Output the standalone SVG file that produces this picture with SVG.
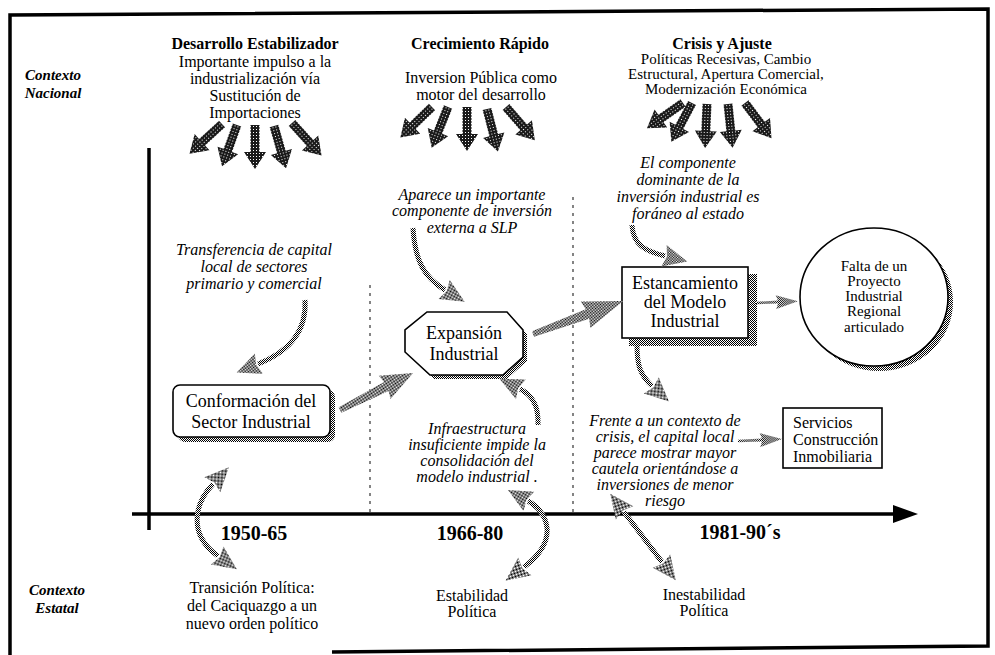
<svg xmlns="http://www.w3.org/2000/svg" xmlns:xlink="http://www.w3.org/1999/xlink" width="995" height="655" viewBox="0 0 995 655">
  <style>
    .t { font-family: "Liberation Serif", "Times New Roman", serif; font-size: 16px; fill: #000; text-anchor: middle; }
    .i { font-style: italic; }
    .b { font-weight: bold; }
    .n { font-size: 18px; }
    .s { font-size: 15px; }
    .yr { font-size: 20px; font-weight: bold; }
    .ctx { font-size: 15px; font-weight: bold; font-style: italic; }
    .box { fill: #fff; stroke: #000; stroke-width: 1.6; }
    .shadow { fill: url(#stip); }
    .curve { fill: none; stroke: url(#stip); stroke-width: 5; marker-end: url(#head); }
    .both { marker-start: url(#head); }
    .axis { stroke: #000; stroke-width: 3.5; fill: none; }
    .sep { stroke: #333; stroke-width: 1.2; stroke-dasharray: 3 5; fill: none; }
  </style>
  <defs>
    <!-- grainy halftone fills -->
    <pattern id="stip" width="2" height="2" patternUnits="userSpaceOnUse">
      <rect width="2" height="2" fill="#fff"/>
      <rect width="1" height="1" fill="#000"/>
      <rect x="1" y="1" width="1" height="1" fill="#000"/>
    </pattern>
    <pattern id="stipDark" width="3" height="3" patternUnits="userSpaceOnUse">
      <rect width="3" height="3" fill="#1a1a1a"/>
      <rect x="1" y="1" width="1" height="1" fill="#fff"/>
    </pattern>
    <marker id="head" markerUnits="userSpaceOnUse" markerWidth="30" markerHeight="26" viewBox="0 -13 28 26" refX="1" refY="0" orient="auto-start-reverse">
      <path d="M0,-11 L24,0 L0,11 L3,0 Z" fill="url(#stip)"/>
    </marker>
    <!-- short dark arrow of the national-context bundles, pointing down -->
    <path id="narr" d="M-4.5,0 L4.5,0 L4.5,27 L11,27 L0,44 L-11,27 L-4.5,27 Z" fill="url(#stipDark)"/>
  </defs>

  <rect width="995" height="655" fill="#fff"/>

  <!-- outer frame -->
  <path d="M10,655 L10,15 L988,9 L988,646 L332,652" fill="none" stroke="#000" stroke-width="3.5"/>

  <!-- time axes and period separators -->
  <g id="axes">
    <line class="axis" x1="149" y1="148" x2="149" y2="530"/>
    <line class="axis" x1="132" y1="514" x2="896" y2="514"/>
    <polygon points="893,505 918,514 893,523" fill="#000"/>
    <line class="sep" x1="370" y1="285" x2="370" y2="512"/>
    <line class="sep" x1="573" y1="197" x2="573" y2="512"/>
  </g>

  <!-- side headings -->
  <g id="contexto-nacional">
    <text class="t ctx" x="53" y="80">Contexto</text>
    <text class="t ctx" x="53" y="98">Nacional</text>
  </g>
  <g id="contexto-estatal">
    <text class="t ctx" x="57" y="595">Contexto</text>
    <text class="t ctx" x="57" y="613">Estatal</text>
  </g>

  <!-- national periods -->
  <g id="periodo-1">
    <text class="t b" x="255" y="49">Desarrollo Estabilizador</text>
    <text class="t" x="255" y="67">Importante impulso a la</text>
    <text class="t" x="255" y="84">industrialización vía</text>
    <text class="t" x="255" y="101">Sustitución de</text>
    <text class="t" x="255" y="118">Importaciones</text>
  </g>
  <g id="periodo-2">
    <text class="t b" x="480" y="49">Crecimiento Rápido</text>
    <text class="t" x="481" y="83">Inversion Pública como</text>
    <text class="t" x="481" y="100">motor del desarrollo</text>
  </g>
  <g id="periodo-3">
    <text class="t b" x="722" y="49">Crisis y Ajuste</text>
    <text class="t s" x="726" y="64">Políticas Recesivas, Cambio</text>
    <text class="t s" x="726" y="79">Estructural, Apertura Comercial,</text>
    <text class="t s" x="726" y="94">Modernización Económica</text>
  </g>

  <!-- years -->
  <g id="anios">
    <text class="t yr" x="254" y="540">1950-65</text>
    <text class="t yr" x="470" y="540">1966-80</text>
    <text class="t yr" x="740" y="539">1981-90´s</text>
  </g>

  <!-- nodes -->
  <g id="conformacion">
    <rect class="shadow" x="178" y="390" width="157" height="52" rx="7"/>
    <rect class="box" x="173" y="385" width="157" height="52" rx="7"/>
    <text class="t n" x="251" y="407">Conformación del</text>
    <text class="t n" x="251" y="428">Sector Industrial</text>
  </g>
  <g id="expansion">
    <polygon class="shadow" points="431,316 511,316 527,334 527,361 507,379 434,379 409,356 409,334"/>
    <polygon class="box" points="427,312 507,312 523,330 523,357 503,375 430,375 405,352 405,330" stroke-width="2"/>
    <text class="t n" x="464" y="339">Expansión</text>
    <text class="t n" x="464" y="360">Industrial</text>
  </g>
  <g id="estancamiento">
    <rect class="shadow" x="629" y="274" width="128" height="72"/>
    <rect class="box" x="622" y="267" width="126" height="71" stroke-width="2"/>
    <text class="t n" x="685" y="289">Estancamiento</text>
    <text class="t n" x="685" y="308">del Modelo</text>
    <text class="t n" x="685" y="327">Industrial</text>
  </g>
  <g id="falta-proyecto">
    <ellipse class="shadow" cx="879" cy="302" rx="74" ry="69"/>
    <ellipse class="box" cx="874" cy="297" rx="74" ry="69" stroke-width="2"/>
    <text class="t s" x="874" y="271">Falta de un</text>
    <text class="t s" x="874" y="286">Proyecto</text>
    <text class="t s" x="874" y="301">Industrial</text>
    <text class="t s" x="874" y="316">Regional</text>
    <text class="t s" x="874" y="332">articulado</text>
  </g>
  <g id="servicios">
    <rect class="box" x="783" y="408" width="99" height="60"/>
    <text class="t" x="793" y="428" style="text-anchor:start">Servicios</text>
    <text class="t" x="793" y="445" style="text-anchor:start">Construcción</text>
    <text class="t" x="793" y="462" style="text-anchor:start">Inmobiliaria</text>
  </g>

  <!-- italic notes -->
  <g id="nota-transferencia">
    <text class="t i" x="254" y="255">Transferencia de capital</text>
    <text class="t i" x="254" y="272">local de sectores</text>
    <text class="t i" x="254" y="289">primario y comercial</text>
  </g>
  <g id="nota-aparece">
    <text class="t i" x="472" y="200">Aparece un importante</text>
    <text class="t i" x="472" y="216">componente de inversión</text>
    <text class="t i" x="472" y="233">externa a SLP</text>
  </g>
  <g id="nota-componente">
    <text class="t i" x="688" y="168">El componente</text>
    <text class="t i" x="688" y="185">dominante de la</text>
    <text class="t i" x="688" y="202">inversión industrial es</text>
    <text class="t i" x="688" y="219">foráneo al estado</text>
  </g>
  <g id="nota-infraestructura">
    <text class="t i" x="477" y="434">Infraestructura</text>
    <text class="t i" x="477" y="450">insuficiente impide la</text>
    <text class="t i" x="477" y="466">consolidación del</text>
    <text class="t i" x="477" y="482">modelo industrial .</text>
  </g>
  <g id="nota-frente">
    <text class="t i" x="665" y="426">Frente a un contexto de</text>
    <text class="t i" x="665" y="442">crisis, el capital local</text>
    <text class="t i" x="665" y="458">parece mostrar mayor</text>
    <text class="t i" x="665" y="474">cautela orientándose a</text>
    <text class="t i" x="665" y="490">inversiones de menor</text>
    <text class="t i" x="665" y="506">riesgo</text>
  </g>

  <!-- state context -->
  <g id="transicion">
    <text class="t" x="252" y="593">Transición Política:</text>
    <text class="t" x="252" y="611">del Caciquazgo a un</text>
    <text class="t" x="252" y="629">nuevo orden político</text>
  </g>
  <g id="estabilidad">
    <text class="t" x="472" y="601">Estabilidad</text>
    <text class="t" x="472" y="617">Política</text>
  </g>
  <g id="inestabilidad">
    <text class="t" x="704" y="600">Inestabilidad</text>
    <text class="t" x="704" y="616">Política</text>
  </g>

  <!-- connectors -->
  <g id="connectors">
    <!-- national pressure bundles -->
    <use xlink:href="#narr" transform="translate(222,124) rotate(47.6)"/>
    <use xlink:href="#narr" transform="translate(237,125) rotate(19.9)"/>
    <use xlink:href="#narr" transform="translate(255,125)"/>
    <use xlink:href="#narr" transform="translate(274,126) rotate(-15.9)"/>
    <use xlink:href="#narr" transform="translate(292,123) rotate(-42.2)"/>

    <use xlink:href="#narr" transform="translate(432,107) rotate(46)"/>
    <use xlink:href="#narr" transform="translate(448,107) rotate(21.8)"/>
    <use xlink:href="#narr" transform="translate(467,107)"/>
    <use xlink:href="#narr" transform="translate(487,109) rotate(-14.4)"/>
    <use xlink:href="#narr" transform="translate(506,107) rotate(-40.9)"/>

    <use xlink:href="#narr" transform="translate(683,103) rotate(55)"/>
    <use xlink:href="#narr" transform="translate(692,103) rotate(28)"/>
    <use xlink:href="#narr" transform="translate(707,104) rotate(2.5)"/>
    <use xlink:href="#narr" transform="translate(728,104) rotate(-6)"/>
    <use xlink:href="#narr" transform="translate(745,103) rotate(-37)"/>

    <!-- main sequence -->
    <path d="M0,-3 L52,-5 L50,-13 L82,0 L50,13 L52,5 L0,3 Z" fill="url(#stip)" transform="translate(340,410) rotate(-26.9)"/>
    <path d="M0,-3 L58,-5 L56,-14 L96,0 L56,14 L58,5 L0,3 Z" fill="url(#stip)" transform="translate(533,334) rotate(-20.1)"/>
    <path d="M0,-1.2 L22,-1.5 L20,-7 L42,0 L20,7 L22,1.5 L0,1.2 Z" fill="url(#stip)" transform="translate(756,303) rotate(-2.5)"/>
    <path d="M0,-1.2 L24,-1.5 L22,-7 L44,0 L22,7 L24,1.5 L0,1.2 Z" fill="url(#stip)" transform="translate(738,441) rotate(-2.5)"/>

    <!-- curved influences -->
    <path class="curve" d="M305,300 C307,332 288,352 258,364"/>
    <path class="curve" d="M413,228 C415,262 425,278 445,290"/>
    <path class="curve" d="M632,225 C633,245 645,251 665,256"/>
    <path class="curve" d="M637,345 C637,365 640,375 652,386"/>
    <path class="curve" d="M538,425 C539,403 530,394 520,389"/>

    <!-- state context links -->
    <path class="curve both" d="M213,484 C194,504 188,535 218,556"/>
    <path class="curve both" d="M528,501 C548,512 560,540 524,567"/>
    <path class="curve both" d="M624,512 L662,562"/>
  </g>
</svg>
